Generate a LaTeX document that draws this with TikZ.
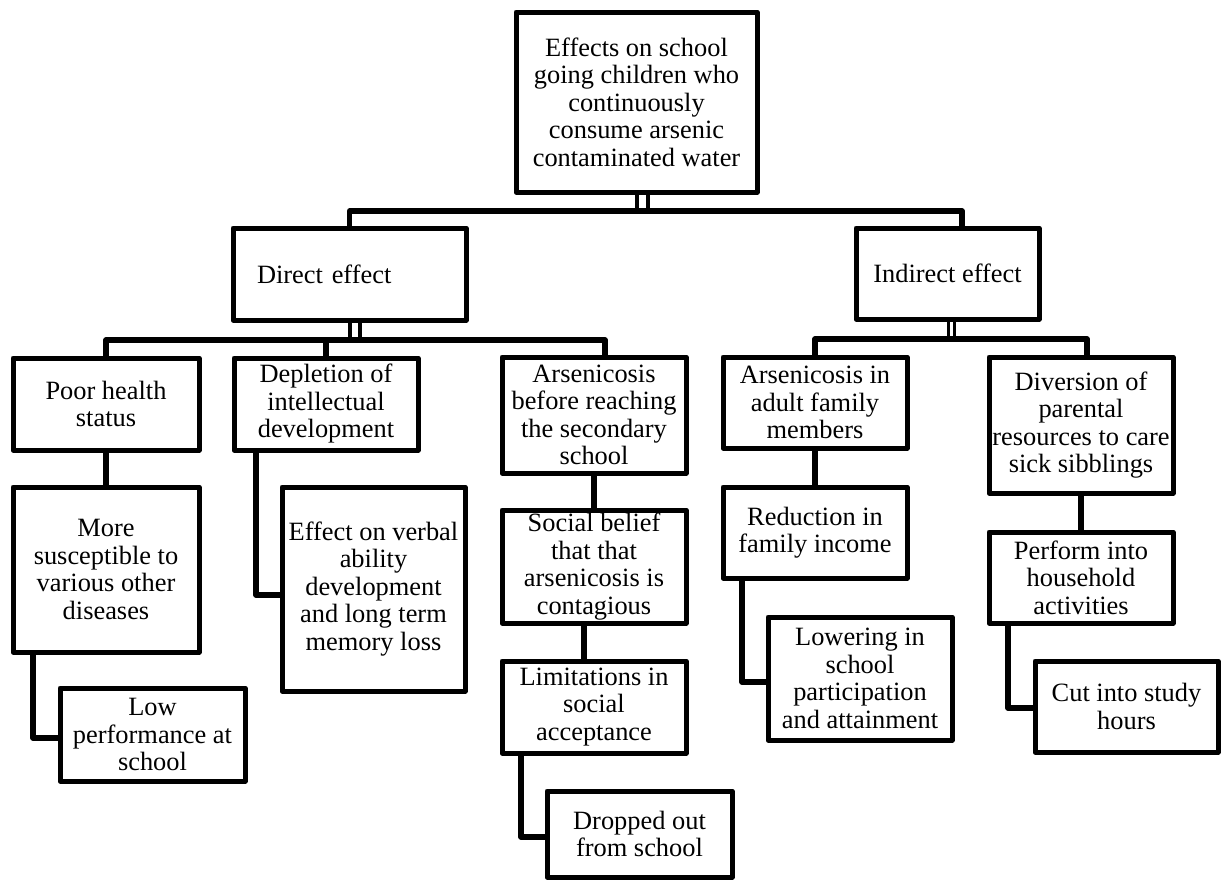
\documentclass[tikz,border=0pt]{standalone}
\usepackage{fontspec}
\setmainfont{Liberation Serif}
\usetikzlibrary{calc}
\tikzset{
  box/.style 2 args={draw=black, line width=2.5pt, line join=round, fill=white,
    inner sep=0pt, outer sep=0pt, align=center,
    minimum width=#1*0.5pt, minimum height=#2*0.5pt,
    font=\fontsize{13.2}{13.75}\selectfont},
  link/.style={draw=black, line width=2.6pt, line join=round},
  stub/.style={draw=black, line width=2.2pt, line join=round}
}
\begin{document}
\begin{tikzpicture}[x=0.5pt,y=-0.5pt]
\useasboundingbox (0,0) rectangle (1221,880);
% bar coordinates need nodes first
\node[box={241}{180}] (top) at (636.5,102) {Effects on school\\going children who\\continuously\\consume arsenic\\contaminated water};
\node[box={233}{92}, text width=92.5pt, inner xsep=12pt, align=left] (direct) at (349.5,274) {Direct effect};
\node[box={183}{91}] (indirect) at (947.5,273.5) {Indirect effect};
\node[box={186}{92}] (poor) at (106,404) {Poor health\\status};
\node[box={184}{92}] (depl) at (326,404) {Depletion of\\intellectual\\development};
\node[box={186}{165}] (more) at (106,569.5) {More\\susceptible to\\various other\\diseases};
\node[box={183}{204}] (effect) at (373.5,589) {Effect on verbal\\ability\\development\\and long term\\memory loss};
\node[box={185}{93}] (low) at (152.5,734.5) {Low\\performance at\\school};
\node[box={184}{116}] (arsb) at (594,415) {Arsenicosis\\before reaching\\the secondary\\school};
\node[box={184}{113}] (social) at (594,566.5) {Social belief\\that that\\arsenicosis is\\contagious};
\node[box={184}{92}] (limit) at (594,707) {Limitations in\\social\\acceptance};
\node[box={185}{86}] (dropped) at (639.5,834) {Dropped out\\from school};
\node[box={184}{91}] (arsa) at (815,402.5) {Arsenicosis in\\adult family\\members};
\node[box={184}{91}] (reduc) at (815,532.5) {Reduction in\\family income};
\node[box={184}{123}] (lower) at (860,678.5) {Lowering in\\school\\participation\\and attainment};
\node[box={184}{136}] (divers) at (1081,425) {Diversion of\\parental\\resources to care\\sick sibblings};
\node[box={184}{91}] (perform) at (1081,577.5) {Perform into\\household\\activities};
\node[box={183}{91}] (cut) at (1126.5,706.5) {Cut into study\\hours};
% bar coordinates
\coordinate (topbar) at ($(top.south)+(6,19)$);
\coordinate (dbar) at ($(direct.south)+(5.5,20)$);
\coordinate (ibar) at ($(indirect.south)+(4,20)$);
% top level
\draw[stub] ($(top.south)+(0.5,0)$) rectangle ($(top.south)+(11.5,19)$);
\draw[link] (direct.north) |- (topbar) -| ($(indirect.north)+(14.5,0)$);
% direct branch
\draw[stub] ($(direct.south)+(0.5,0)$) rectangle ($(direct.south)+(10.5,20)$);
\draw[link] (poor.north) |- (dbar) -| ($(arsb.north)+(11,0)$);
\draw[link] (depl.north) -- (depl.north |- dbar);
% indirect branch
\draw[stub, line width=1.6pt] ($(indirect.south)+(1,0)$) rectangle ($(indirect.south)+(7,20)$);
\draw[link] (arsa.north) |- (ibar) -| ($(divers.north)+(6,0)$);
% vertical links
\draw[link] (poor.south) -- (more.north);
\draw[link] (arsb.south) -- (social.north);
\draw[link] ($(social.south)+(-10,0)$) -- ($(limit.north)+(-10,0)$);
\draw[link] (arsa.south) -- (reduc.north);
\draw[link] (divers.south) -- (perform.north);
% elbow links
\draw[link] ($(more.south west)+(20,0)$) |- ($(low.west)+(0,3.5)$);
\draw[link] ($(depl.south west)+(22,0)$) |- ($(effect.west)+(0,6)$);
\draw[link] ($(limit.south west)+(19,0)$) |- ($(dropped.west)+(0,3)$);
\draw[link] ($(reduc.south west)+(19,0)$) |- ($(lower.west)+(0,3.5)$);
\draw[link] ($(perform.south west)+(19,0)$) |- ($(cut.west)+(0,1.5)$);
\end{tikzpicture}
\end{document}
